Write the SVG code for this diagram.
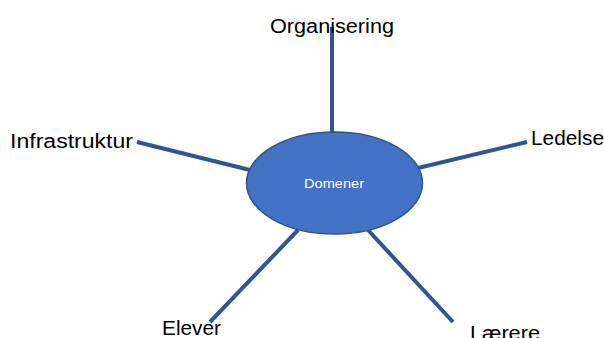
<svg xmlns="http://www.w3.org/2000/svg" width="604" height="338" viewBox="0 0 604 338">
<style>
.lbl{font-family:"Liberation Sans","Open Sans",sans-serif;font-size:20px;fill:#000}
.conn line{stroke:#2F5597;stroke-width:4;stroke-linecap:butt}
</style>
<rect width="604" height="338" fill="#fff"/>
<g id="connectors" class="conn">
<line x1="332" y1="27" x2="332" y2="133"/>
<line x1="137" y1="142" x2="250" y2="170"/>
<line x1="527" y1="142" x2="418" y2="168"/>
<line x1="298" y1="230" x2="210" y2="322"/>
<line x1="368" y1="230" x2="453" y2="322"/>
</g>
<g id="domener">
<ellipse cx="334.5" cy="183" rx="88" ry="51" fill="#4472C4" stroke="#2F528F" stroke-width="1.5"/>
<text x="334" y="188" text-anchor="middle" font-family="Liberation Sans,sans-serif" font-size="13" fill="#fff" textLength="60" lengthAdjust="spacingAndGlyphs">Domener</text>
</g>
<g id="organisering"><text class="lbl" x="270" y="33" textLength="124" lengthAdjust="spacingAndGlyphs">Organisering</text></g>
<g id="infrastruktur"><text class="lbl" x="10" y="148" textLength="123" lengthAdjust="spacingAndGlyphs">Infrastruktur</text></g>
<g id="ledelse"><text class="lbl" x="531" y="145" textLength="73" lengthAdjust="spacingAndGlyphs">Ledelse</text></g>
<g id="elever"><text class="lbl" x="162" y="335" textLength="59" lengthAdjust="spacingAndGlyphs">Elever</text></g>
<g id="laerere"><text class="lbl" x="470" y="340" textLength="70" lengthAdjust="spacingAndGlyphs">Lærere</text></g>
</svg>
